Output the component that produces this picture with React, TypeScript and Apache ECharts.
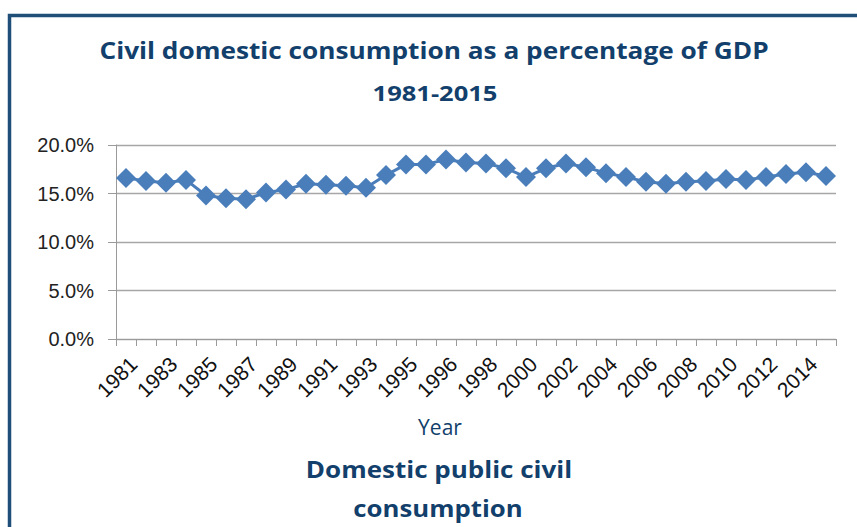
import React, { useEffect, useRef } from "react";
import * as echarts from "echarts";

const years: string[] = [
  "1981", "1982", "1983", "1984", "1985", "1986", "1987", "1988", "1989", "1990",
  "1991", "1992", "1993", "1994", "1995", "1995", "1996", "1997", "1998", "1999",
  "2000", "2001", "2002", "2003", "2004", "2005", "2006", "2007", "2008", "2009",
  "2010", "2011", "2012", "2013", "2014", "2015",
];

const consumption: number[] = [
  16.6, 16.3, 16.1, 16.4, 14.8, 14.5, 14.4, 15.1, 15.4, 16.0,
  15.9, 15.8, 15.6, 16.9, 18.0, 18.0, 18.5, 18.2, 18.1, 17.6,
  16.7, 17.6, 18.1, 17.7, 17.1, 16.7, 16.2, 16.0, 16.2, 16.3,
  16.5, 16.4, 16.7, 17.0, 17.2, 16.8,
];

const titleLine1 = "Civil domestic consumption as a percentage of GDP";
const titleLine2 = "1981-2015";
const xAxisTitle = "Year";
const seriesLine1 = "Domestic public civil";
const seriesLine2 = "consumption";

const NAVY = "#123f6b";

export default function App() {
  const ref = useRef<HTMLDivElement>(null);
  useEffect(() => {
    if (!ref.current) return;
    const chart = echarts.init(ref.current, undefined, { renderer: "svg" });
    chart.setOption({
      animation: false,
      backgroundColor: "#ffffff",
      grid: { left: 116, right: 21, top: 145, bottom: 188, containLabel: false },
      xAxis: {
        type: "category",
        data: years,
        boundaryGap: true,
        axisLine: { show: true, lineStyle: { color: "#9a9a9a", width: 1 } },
        axisTick: { show: true, interval: 0, length: 7, lineStyle: { color: "#9a9a9a" } },
        axisLabel: {
          interval: 1,
          rotate: 45,
          margin: 14,
          verticalAlign: "top",
          color: "#111111",
          fontFamily: "Liberation Sans",
          fontSize: 21,
        },
        splitLine: { show: false },
      },
      yAxis: {
        type: "value",
        min: 0,
        max: 20,
        interval: 5,
        axisLine: { show: true, lineStyle: { color: "#9a9a9a", width: 1 } },
        axisTick: { show: true, length: 8, lineStyle: { color: "#9a9a9a" } },
        axisLabel: {
          formatter: (v: number) => v.toFixed(1) + "%",
          color: "#222222",
          fontFamily: "Liberation Sans",
          fontSize: 20,
          margin: 22,
        },
        splitLine: { show: true, lineStyle: { color: "#a6a6a6", width: 1.3 } },
      },
      series: [
        {
          type: "line",
          data: consumption,
          symbol: "diamond",
          symbolSize: 20,
          showAllSymbol: true,
          itemStyle: { color: "#4a7ebb" },
          lineStyle: { color: "#4a7ebb", width: 3 },
        },
      ],
      graphic: [
        {
          type: "rect",
          shape: { x: 9.5, y: 15.5, width: 900, height: 600 },
          style: { fill: "none", stroke: "#1f4e79", lineWidth: 3.5 },
          silent: true,
        },
        {
          type: "text",
          x: 434,
          y: 50,
          scaleX: 1.14,
          style: {
            text: titleLine1,
            fill: NAVY,
            font: "bold 23px 'Open Sans'",
            textAlign: "center",
            textVerticalAlign: "middle",
          },
        },
        {
          type: "text",
          x: 435,
          y: 93,
          scaleX: 1.16,
          style: {
            text: titleLine2,
            fill: NAVY,
            font: "bold 22px 'Open Sans'",
            textAlign: "center",
            textVerticalAlign: "middle",
          },
        },
        {
          type: "text",
          x: 440,
          y: 427,
          style: {
            text: xAxisTitle,
            fill: NAVY,
            font: "21px 'Open Sans'",
            textAlign: "center",
            textVerticalAlign: "middle",
          },
        },
        {
          type: "text",
          x: 439,
          y: 469,
          scaleX: 1.13,
          style: {
            text: seriesLine1,
            fill: NAVY,
            font: "bold 23px 'Open Sans'",
            textAlign: "center",
            textVerticalAlign: "middle",
          },
        },
        {
          type: "text",
          x: 438,
          y: 508,
          scaleX: 1.12,
          style: {
            text: seriesLine2,
            fill: NAVY,
            font: "bold 23px 'Open Sans'",
            textAlign: "center",
            textVerticalAlign: "middle",
          },
        },
      ],
    });
    return () => chart.dispose();
  }, []);
  return <div ref={ref} style={{ width: 857, height: 527, position: "fixed", left: 0, top: 0 }} />;
}
